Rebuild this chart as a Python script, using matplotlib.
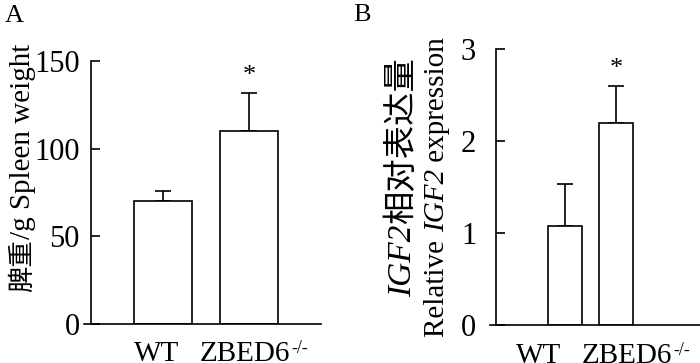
import matplotlib
matplotlib.use('Agg')
import matplotlib.pyplot as plt

plt.rcParams['font.family'] = ['Liberation Serif', 'Noto Sans CJK SC']

groups = ['WT', 'ZBED6']
spleen_mean = [70, 110]
spleen_err = [6, 22]
spleen_ticks = [0, 50, 100, 150]
igf2_mean = [1.08, 2.20]
igf2_err = [0.45, 0.40]
igf2_ticks = [0, 1, 2, 3]

W, H = 700, 363
fig = plt.figure(figsize=(W / 100, H / 100), dpi=100)
FS = 22


def px_axes(x0, y0, x1, y1):
    # pixel box, origin top-left
    return fig.add_axes([x0 / W, 1 - y1 / H, (x1 - x0) / W, (y1 - y0) / H])


def bar_panel(ax, means, errs, ymax, ticks, xlim, spine_x, width, pad, label_x):
    x = list(range(len(means)))
    ax.bar(x, means, width=width, color='white', edgecolor='black', linewidth=1.2, zorder=2)
    ax.errorbar(x, means, yerr=[[0] * len(errs), errs], fmt='none', ecolor='black',
                elinewidth=1.2, capsize=5.5, capthick=1.2, zorder=1)
    top = means[1] + errs[1]
    ax.text(1, top + ymax * 0.02, '*', ha='center', va='bottom', fontsize=19)
    ax.set_xlim(*xlim)
    ax.set_ylim(0, ymax)
    ax.spines['top'].set_visible(False)
    ax.spines['right'].set_visible(False)
    ax.spines['left'].set_position(('data', spine_x))
    for s in ('left', 'bottom'):
        ax.spines[s].set_linewidth(1.2)
    ax.set_yticks(ticks)
    ax.set_xticks([])
    ax.tick_params(axis='y', direction='in', length=6.5, width=1.2, labelsize=FS, pad=pad)
    ax.patch.set_visible(False)
    t1 = ax.text(label_x[0], -0.065 * ymax, groups[0], ha='center', va='top', fontsize=21)
    t2 = ax.text(label_x[1], -0.065 * ymax, groups[1], ha='left', va='top', fontsize=21)
    ax.annotate('-/-', xy=(1, 1), xycoords=t2, ha='left', va='top',
                fontsize=13, xytext=(0.5, 1), textcoords='offset points')


axA = px_axes(84, 61, 321, 324)
bar_panel(axA, spleen_mean, spleen_err, 150, spleen_ticks,
          (-0.919, 1.837), -0.837, 0.67, 8, (-0.07, 0.43))

axB = px_axes(490, 49, 700, 325)
bar_panel(axB, igf2_mean, igf2_err, 3, igf2_ticks,
          (-1.47, 2.647), -1.36, 0.68, 14, (-0.51, 0.33))

fig.text(5 / W, 1 - 22 / H, 'A', fontsize=19, ha='left', va='baseline')
fig.text(353 / W, 1 - 21 / H, 'B', fontsize=19, ha='left', va='baseline')


def rotated_label(x_px, yc_px, parts):
    # parts: list of (text, style, size); drawn bottom to top, baseline at x_px
    texts = []
    for s, style, size in parts:
        texts.append(fig.text(0, 0, s, rotation=90, rotation_mode='anchor',
                              ha='left', va='baseline', fontsize=size, style=style))
    fig.canvas.draw()
    r = fig.canvas.get_renderer()
    lens = [t.get_window_extent(r).height for t in texts]
    y = (H - yc_px) - sum(lens) / 2
    for t, l in zip(texts, lens):
        t.set_position((x_px / W, y / H))
        y += l


rotated_label(30, 168, [('脾重', 'normal', 19), ('/g Spleen weight', 'normal', 21)])
rotated_label(411, 177, [('IGF2', 'italic', 24), ('相对表达量', 'normal', 24)])
rotated_label(444, 187, [('Relative ', 'normal', 21), ('IGF2', 'italic', 21),
                         (' expression', 'normal', 21)])

fig.savefig('out.png', dpi=100)
